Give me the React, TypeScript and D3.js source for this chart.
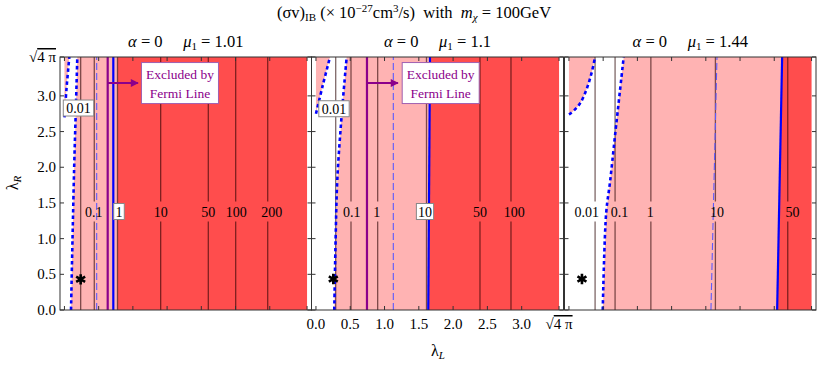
import React, { useEffect, useRef } from 'react';
import * as d3 from 'd3';

const SQ = Math.sqrt(4 * Math.PI);

// panel parameter
const muValues = ['1.01', '1.1', '1.44'];

// axis ticks
const tickValues = [0, 0.5, 1, 1.5, 2, 2.5, 3, SQ];
const tickLabels = ['0.0', '0.5', '1.0', '1.5', '2.0', '2.5', '3.0', 'sqrt'];

// dotted boundaries, points [lambdaL, lambdaR]
const upperDotted = [
  [[0, 2.7], [0.03, 3.1], [0.071, SQ]],
  [[0, 2.75], [0.1, 3.15], [0.205, SQ]],
  [[0, 2.74], [0.016, 2.75], [0.089, 2.81], [0.172, 2.91], [0.26, 3.1], [0.333, 3.33], [0.382, SQ]],
];
const lowerDotted = [
  [[0.096, 0], [0.118, 1.0], [0.142, 2.0], [0.166, 2.8], [0.188, SQ]],
  [[0.267, 0], [0.287, 1.0], [0.311, 1.82], [0.375, 2.73], [0.448, SQ]],
  [[0.494, 0], [0.544, 1.36], [0.6, 1.79], [0.674, 2.45], [0.8, SQ]],
];

// [bottom, top] lambdaL of straight lines
const redEdge = [[0.775, 0.775], [1.638, 1.663], [3.042, 3.115]];
const blueSolid = [[0.714, 0.714], [1.638, 1.663], [3.042, 3.115]];
const blueDashed = [[0.471, 0.471], [1.128, 1.128], [2.075, 2.163]];

// Fermi line, arrow end and note box centre
const fermiLine = [0.632, 0.744, null];
const fermiArrowEnd = [1.075, 1.196, null];
const fermiBox = [[1.688, 3.18], [1.819, 3.18], null];

// contours of (sigma v)_IB
const contourLevels = [
  ['0.01', '0.1', '1', '10', '50', '100', '200'],
  ['0.01', '0.1', '1', '10', '50', '100'],
  ['0.01', '0.1', '1', '10', '50'],
];
const contourX = [
  [0.237, 0.436, 0.775, 1.406, 2.102, 2.502, 2.97],
  [0.288, 0.511, 0.9, 1.612, 2.392, 2.844],
  [0.382, 0.674, 1.197, 2.14, 3.197],
];
const labelX = [
  [0.205, 0.429, 0.797, 1.406, 2.102, 2.511, 3.028],
  [0.263, 0.521, 0.886, 1.59, 2.392, 2.893],
  [0.26, 0.74, 1.187, 2.163, 3.266],
];
const labelY = [
  [2.83, 1.38, 1.38, 1.38, 1.38, 1.38, 1.38],
  [2.82, 1.38, 1.38, 1.38, 1.38, 1.38],
  [1.38, 1.38, 1.38, 1.38, 1.38],
];
const boxed = [
  [true, false, true, false, false, false, false],
  [true, false, false, true, false, false],
  [false, false, false, false, false],
];

// benchmark point
const stars = [[0.237, 0.43], [0.253, 0.434], [0.19, 0.434]];

const FONT = '"Liberation Serif", "Times New Roman", serif';
const SP = '\u00A0';

const App = () => {
  const svgRef = useRef(null);

  useEffect(() => {
    const TOP = 57, BOTTOM = 310;
    const PAD = 0.065;
    const panelLeft = [60, 311.5, 564.5];
    const panelRight = [311.5, 563.5, 816];
    const pink = '#FFB3B3', red = '#FF4D4D', purple = '#8B008B';

    const svg = d3.select(svgRef.current);
    svg.selectAll('*').remove();
    svg.style('font-family', FONT);

    const y = d3.scaleLinear().domain([0, SQ]).range([BOTTOM, TOP]);
    const defs = svg.append('defs');
    defs.append('marker')
      .attr('id', 'arrow')
      .attr('viewBox', '0 0 10 10')
      .attr('refX', 9).attr('refY', 5)
      .attr('markerWidth', 5).attr('markerHeight', 4)
      .attr('markerUnits', 'strokeWidth')
      .attr('orient', 'auto')
      .append('path').attr('d', 'M0,0L10,5L0,10z').attr('fill', purple);

    // title
    const title = svg.append('text')
      .attr('x', 414).attr('y', 18).attr('text-anchor', 'middle')
      .style('font-size', '16.5px');
    title.append('tspan').text('(σv)');
    title.append('tspan').attr('dy', 3).style('font-size', '11px').text('IB');
    title.append('tspan').attr('dy', -3).text(`${SP}(× 10`);
    title.append('tspan').attr('dy', -6).style('font-size', '11px').text('−27');
    title.append('tspan').attr('dy', 6).text('cm');
    title.append('tspan').attr('dy', -6).style('font-size', '11px').text('3');
    title.append('tspan').attr('dy', 6).text(`/s)${SP}${SP}with${SP}${SP}`);
    title.append('tspan').style('font-style', 'italic').text('m');
    title.append('tspan').attr('dy', 3).style('font-size', '11px').style('font-style', 'italic').text('χ');
    title.append('tspan').attr('dy', -3).text(`${SP}=${SP}100GeV`);

    // axis labels
    const yl = svg.append('text')
      .attr('transform', 'translate(18,183) rotate(-90)')
      .attr('text-anchor', 'middle').style('font-size', '16px');
    yl.append('tspan').text('λ');
    yl.append('tspan').attr('dy', 3).style('font-size', '11px').style('font-style', 'italic').text('R');
    const xl = svg.append('text')
      .attr('x', 438).attr('y', 356).attr('text-anchor', 'middle').style('font-size', '16px');
    xl.append('tspan').text('λ');
    xl.append('tspan').attr('dy', 3).style('font-size', '11px').style('font-style', 'italic').text('L');

    const addTickLabel = (sel, label) => {
      if (label === 'sqrt') {
        sel.append('tspan').text('√');
        sel.append('tspan').style('text-decoration', 'overline').text(`4${SP}π`);
      } else {
        sel.text(label);
      }
    };

    muValues.forEach((mu, i) => {
      const x = d3.scaleLinear().domain([-PAD, SQ + PAD]).range([panelLeft[i], panelRight[i]]);
      const xc = (panelLeft[i] + panelRight[i]) / 2;

      defs.append('clipPath').attr('id', `clip${i}`)
        .append('rect')
        .attr('x', panelLeft[i]).attr('y', TOP)
        .attr('width', panelRight[i] - panelLeft[i]).attr('height', BOTTOM - TOP);

      // panel title
      const pt = svg.append('text').attr('x', xc).attr('y', 47)
        .attr('text-anchor', 'middle').style('font-size', '16.5px');
      pt.append('tspan').style('font-style', 'italic').text('α');
      pt.append('tspan').text(`${SP}=${SP}0${SP}${SP}${SP}${SP}${SP}`);
      pt.append('tspan').style('font-style', 'italic').text('μ');
      pt.append('tspan').attr('dy', 3).style('font-size', '11px').text('1');
      pt.append('tspan').attr('dy', -3).text(`${SP}=${SP}${mu}`);

      const g = svg.append('g').attr('clip-path', `url(#clip${i})`);
      g.append('rect')
        .attr('x', panelLeft[i]).attr('y', TOP)
        .attr('width', panelRight[i] - panelLeft[i]).attr('height', BOTTOM - TOP)
        .attr('fill', 'white');

      const poly = d3.line().x(d => x(d[0])).y(d => y(d[1]));
      const smooth = d3.line().x(d => x(d[0])).y(d => y(d[1])).curve(d3.curveCatmullRom);

      // pink lobe in upper left
      g.append('path')
        .attr('d', smooth(upperDotted[i]) + `L${x(0)},${y(SQ)}Z`)
        .attr('fill', pink);

      // pink band
      const band = [...lowerDotted[i], [redEdge[i][1], SQ], [redEdge[i][0], 0]];
      g.append('path').attr('d', poly(band) + 'Z').attr('fill', pink);

      // red region
      const redArea = [[redEdge[i][0], 0], [redEdge[i][1], SQ], [SQ, SQ], [SQ, 0]];
      g.append('path').attr('d', poly(redArea) + 'Z').attr('fill', red);

      // contour lines
      contourLevels[i].forEach((lev, j) => {
        const cx = x(contourX[i][j]);
        const ly = y(labelY[i][j]);
        const segs = boxed[i][j] ? [[TOP, BOTTOM]] : [[TOP, ly - 10], [ly + 10, BOTTOM]];
        segs.forEach(s => {
          g.append('line')
            .attr('x1', cx).attr('x2', cx).attr('y1', s[0]).attr('y2', s[1])
            .attr('stroke', 'rgba(40,0,0,0.6)').attr('stroke-width', 1.3);
        });
      });

      // thin dashed blue
      g.append('line')
        .attr('x1', x(blueDashed[i][0])).attr('y1', BOTTOM)
        .attr('x2', x(blueDashed[i][1])).attr('y2', TOP)
        .attr('stroke', '#5A5AFF').attr('stroke-width', 1.1).attr('stroke-dasharray', '7,3');

      // Fermi line
      if (fermiLine[i] !== null) {
        g.append('line')
          .attr('x1', x(fermiLine[i])).attr('x2', x(fermiLine[i]))
          .attr('y1', TOP).attr('y2', BOTTOM)
          .attr('stroke', purple).attr('stroke-width', 2.2);
      }

      // solid blue
      g.append('line')
        .attr('x1', x(blueSolid[i][0])).attr('y1', BOTTOM)
        .attr('x2', x(blueSolid[i][1])).attr('y2', TOP)
        .attr('stroke', '#0000FF').attr('stroke-width', 2.2);

      // dotted blue boundaries
      [upperDotted[i], lowerDotted[i]].forEach(pts => {
        g.append('path').attr('d', smooth(pts))
          .attr('fill', 'none').attr('stroke', '#0000FF')
          .attr('stroke-width', 2.6).attr('stroke-dasharray', '3.5,3');
      });

      // contour labels
      contourLevels[i].forEach((lev, j) => {
        const lx = x(labelX[i][j]);
        const ly = y(labelY[i][j]);
        if (boxed[i][j]) {
          const w = lev.length * 6.6 + 4;
          g.append('rect')
            .attr('x', lx - w / 2).attr('y', ly - 8)
            .attr('width', w).attr('height', 16)
            .attr('fill', 'white').attr('stroke', '#888').attr('stroke-width', 1);
        }
        g.append('text')
          .attr('x', lx).attr('y', ly + 5)
          .attr('text-anchor', 'middle').style('font-size', '14px')
          .text(lev);
      });

      // benchmark star
      g.append('path')
        .attr('transform', `translate(${x(stars[i][0])},${y(stars[i][1])})`)
        .attr('d', d3.symbol(d3.symbolAsterisk, 75)())
        .attr('stroke', 'black').attr('stroke-width', 2.6);

      // arrow and note
      if (fermiLine[i] !== null) {
        const ay = y(fermiBox[i][1]);
        g.append('line')
          .attr('x1', x(fermiLine[i])).attr('x2', x(fermiArrowEnd[i]))
          .attr('y1', ay).attr('y2', ay)
          .attr('stroke', purple).attr('stroke-width', 2)
          .attr('marker-end', 'url(#arrow)');
        const bx = x(fermiBox[i][0]);
        g.append('rect')
          .attr('x', bx - 38.5).attr('y', ay - 20.5)
          .attr('width', 77).attr('height', 41)
          .attr('fill', 'white').attr('stroke', '#A060B0').attr('stroke-width', 1);
        g.append('text')
          .attr('x', bx).attr('y', ay - 4)
          .attr('text-anchor', 'middle').style('font-size', '13.5px').attr('fill', purple)
          .text('Excluded by');
        g.append('text')
          .attr('x', bx).attr('y', ay + 15)
          .attr('text-anchor', 'middle').style('font-size', '13.5px').attr('fill', purple)
          .text('Fermi Line');
      }

      // frame
      svg.append('rect')
        .attr('x', panelLeft[i]).attr('y', TOP)
        .attr('width', panelRight[i] - panelLeft[i]).attr('height', BOTTOM - TOP)
        .attr('fill', 'none').attr('stroke', '#333').attr('stroke-width', 1);

      // ticks on all four sides
      tickValues.forEach(t => {
        const tx = x(t), ty = y(t);
        svg.append('line').attr('x1', tx).attr('x2', tx).attr('y1', BOTTOM).attr('y2', BOTTOM - 4).attr('stroke', '#333');
        svg.append('line').attr('x1', tx).attr('x2', tx).attr('y1', TOP).attr('y2', TOP + 4).attr('stroke', '#333');
        svg.append('line').attr('x1', panelLeft[i]).attr('x2', panelLeft[i] + 4).attr('y1', ty).attr('y2', ty).attr('stroke', '#333');
        svg.append('line').attr('x1', panelRight[i]).attr('x2', panelRight[i] - 4).attr('y1', ty).attr('y2', ty).attr('stroke', '#333');
      });

      if (i === 0) {
        tickValues.forEach((t, k) => {
          const lab = svg.append('text')
            .attr('x', panelLeft[i] - 4).attr('y', y(t) + 5)
            .attr('text-anchor', 'end').style('font-size', '15px');
          addTickLabel(lab, tickLabels[k]);
        });
      }
      if (i === 1) {
        tickValues.forEach((t, k) => {
          const lab = svg.append('text')
            .attr('x', x(t)).attr('y', BOTTOM + 19)
            .attr('text-anchor', 'middle').style('font-size', '15px');
          addTickLabel(lab, tickLabels[k]);
        });
      }
    });
  }, []);

  return (
    <svg ref={svgRef} width={830} height={367} style={{ display: 'block', position: 'absolute', left: 0, top: 0 }}></svg>
  );
};

export default App;
